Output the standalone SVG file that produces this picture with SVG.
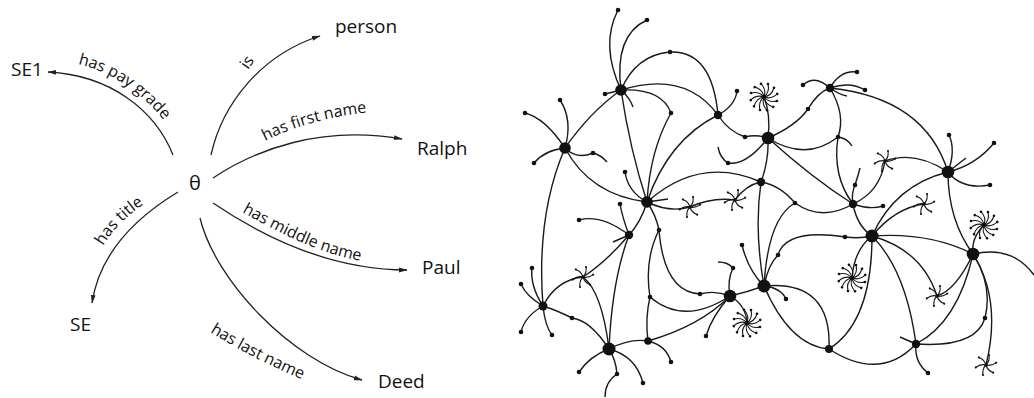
<svg xmlns="http://www.w3.org/2000/svg" xmlns:xlink="http://www.w3.org/1999/xlink" width="1034" height="398" viewBox="0 0 1034 398">
  <style>
    .edge { fill: none; stroke: #222; stroke-width: 1.3; }
    .lbl { font-family: "Open Sans", "Noto Sans", sans-serif; font-size: 16px; fill: #111; }
    .node { font-family: "Open Sans", "Noto Sans", sans-serif; font-size: 19px; fill: #111; }
    .net { fill: none; stroke: #1a1a1a; stroke-width: 1.4; }
    .sp { fill: none; stroke: #1a1a1a; stroke-width: 1.1; }
    .dot { fill: #111; }
  </style>
  <defs>
    <marker id="arrow" markerWidth="9" markerHeight="6" refX="8" refY="3" orient="auto" markerUnits="userSpaceOnUse">
      <path d="M0,0.6 L8.5,3 L0,5.4 z" fill="#222"/>
    </marker>
    <!-- baselines for the curved relation labels -->
    <path id="p-pay" d="M78,64 C112,72 145,94 168,126"/>
    <path id="p-first" d="M265,141 Q310,118 372,112"/>
    <path id="p-title" d="M103,246 Q120,218 152,199"/>
    <path id="p-middle" d="M242,212 C280,233 320,255 368,262"/>
    <path id="p-last" d="M210,332 Q255,360 306,381"/>
    <!-- pinwheel clusters -->
    <g id="spokeL"><path class="sp" d="M0,0 Q6,-5 4,-13"/><circle class="dot" cx="4" cy="-13" r="1.3"/></g>
    <g id="starL">
      <use href="#spokeL"/>
      <use href="#spokeL" transform="rotate(30)"/>
      <use href="#spokeL" transform="rotate(60)"/>
      <use href="#spokeL" transform="rotate(90)"/>
      <use href="#spokeL" transform="rotate(120)"/>
      <use href="#spokeL" transform="rotate(150)"/>
      <use href="#spokeL" transform="rotate(180)"/>
      <use href="#spokeL" transform="rotate(210)"/>
      <use href="#spokeL" transform="rotate(240)"/>
      <use href="#spokeL" transform="rotate(270)"/>
      <use href="#spokeL" transform="rotate(300)"/>
      <use href="#spokeL" transform="rotate(330)"/>
      <circle class="dot" r="2.2"/>
    </g>
    <g id="spokeS"><path class="sp" d="M0,0 Q4,-4 3,-10"/><circle class="dot" cx="3" cy="-10" r="1.1"/></g>
    <g id="starS">
      <use href="#spokeS"/>
      <use href="#spokeS" transform="rotate(60)"/>
      <use href="#spokeS" transform="rotate(120)"/>
      <use href="#spokeS" transform="rotate(180)"/>
      <use href="#spokeS" transform="rotate(240)"/>
      <use href="#spokeS" transform="rotate(300)"/>
      <circle class="dot" r="1.8"/>
    </g>
  </defs>

  <rect width="1034" height="398" fill="#fff"/>

  <!-- ===== RDF-style description of one resource ===== -->
  <g id="connectors">
    <path class="edge" d="M211,155 C222,105 260,55 320,36" marker-end="url(#arrow)"/>
    <path class="edge" d="M213,178 C255,150 320,125 402,139" marker-end="url(#arrow)"/>
    <path class="edge" d="M173,155 C155,110 110,75 48,72" marker-end="url(#arrow)"/>
    <path class="edge" d="M178,192 C140,215 100,250 92,303" marker-end="url(#arrow)"/>
    <path class="edge" d="M213,203 C250,228 320,270 407,270" marker-end="url(#arrow)"/>
    <path class="edge" d="M200,218 C215,280 290,360 362,380" marker-end="url(#arrow)"/>
  </g>

  <g id="edge-labels">
    <text class="lbl" transform="translate(248,70) rotate(-55)">is</text>
    <text class="lbl"><textPath href="#p-first">has first name</textPath></text>
    <text class="lbl"><textPath href="#p-pay">has pay grade</textPath></text>
    <text class="lbl"><textPath href="#p-title">has title</textPath></text>
    <text class="lbl"><textPath href="#p-middle">has middle name</textPath></text>
    <text class="lbl"><textPath href="#p-last">has last name</textPath></text>
  </g>

  <g id="node-subject"><text class="node" x="189" y="190" style="font-size:20px">θ</text></g>
  <g id="node-person"><text class="node" x="335" y="33">person</text></g>
  <g id="node-ralph"><text class="node" x="417" y="155">Ralph</text></g>
  <g id="node-paul"><text class="node" x="422" y="274">Paul</text></g>
  <g id="node-deed"><text class="node" x="378" y="388">Deed</text></g>
  <g id="node-se1"><text class="node" x="11" y="76">SE1</text></g>
  <g id="node-se"><text class="node" x="70" y="331">SE</text></g>

  <!-- ===== large web of interlinked resources ===== -->
  <g id="net-connectors" class="net">
    <path d="M621,90 Q590,112 565,148"/>
    <path d="M621,90 Q630,150 647,202"/>
    <path d="M621,90 Q600,45 618,10"/>
    <path d="M621,90 Q614,35 647,20"/>
    <path d="M621,90 Q636,55 670,52 Q712,50 718,115"/>
    <path d="M621,90 Q685,70 718,115"/>
    <path d="M621,90 Q662,88 671,113 Q650,150 647,202"/>
    <path d="M621,90 L605,94"/>
    <path d="M621,90 Q630,98 633,107"/>
    <path d="M565,148 Q545,118 525,113"/>
    <path d="M565,148 Q573,120 560,100"/>
    <path d="M565,148 Q545,150 534,163"/>
    <path d="M565,148 Q577,160 593,153 Q601,155 607,162"/>
    <path d="M565,148 Q590,195 647,202"/>
    <path d="M565,148 Q536,215 543,306"/>
    <path d="M647,202 Q668,140 718,115"/>
    <path d="M647,202 Q700,155 761,182"/>
    <path d="M647,202 Q628,192 625,172"/>
    <path d="M647,202 L668,199"/>
    <path d="M647,202 Q656,215 659,230 Q664,292 700,294"/>
    <path d="M647,202 Q641,222 629,235"/>
    <path d="M647,202 Q670,213 690,207 Q712,197 735,200 Q746,185 761,182"/>
    <path d="M768,138 Q756,134 745,137 Q728,131 718,115"/>
    <path d="M768,138 Q771,115 764,97"/>
    <path d="M768,138 Q796,126 808,109 Q818,92 830,88"/>
    <path d="M768,138 Q746,166 728,163 Q720,158 718,147"/>
    <path d="M768,138 Q769,160 761,182"/>
    <path d="M768,138 Q812,178 853,204"/>
    <path d="M768,138 Q806,162 838,137"/>
    <path d="M838,137 Q847,138 852,146"/>
    <path d="M838,137 Q832,176 853,204"/>
    <path d="M830,88 Q846,115 838,137"/>
    <path d="M718,115 Q735,106 737,91"/>
    <path d="M830,88 Q815,74 803,85"/>
    <path d="M830,88 Q840,70 857,72"/>
    <path d="M830,88 Q850,81 865,90"/>
    <path d="M830,88 Q840,95 847,96"/>
    <path d="M830,88 Q925,98 948,172"/>
    <path d="M948,172 Q956,150 949,135"/>
    <path d="M948,172 Q976,165 994,143"/>
    <path d="M948,172 Q962,190 990,185"/>
    <path d="M948,172 L966,158"/>
    <path d="M948,172 Q915,150 885,161"/>
    <path d="M948,172 Q895,185 872,236"/>
    <path d="M948,172 Q948,220 973,254"/>
    <path d="M872,236 Q895,208 924,204"/>
    <path d="M853,204 Q870,210 883,206"/>
    <path d="M853,204 Q851,194 855,185 Q858,176 860,168"/>
    <path d="M853,204 Q880,192 885,161"/>
    <path d="M853,204 Q857,226 872,236"/>
    <path d="M853,204 Q822,222 795,203 Q780,185 761,182"/>
    <path d="M795,203 Q768,218 764,286"/>
    <path d="M778,255 Q786,228 845,237 Q860,239 872,236"/>
    <path d="M778,255 Q768,265 764,286"/>
    <path d="M872,236 Q930,232 973,254"/>
    <path d="M872,236 Q854,250 852,278"/>
    <path d="M872,236 Q872,322 829,349"/>
    <path d="M872,236 Q906,270 916,344"/>
    <path d="M872,236 Q922,250 937,296"/>
    <path d="M973,254 Q971,238 984,225"/>
    <path d="M973,254 Q1012,245 1034,275"/>
    <path d="M973,254 Q993,285 985,318 Q976,348 916,344"/>
    <path d="M973,254 Q958,322 916,344"/>
    <path d="M973,254 Q1002,300 986,365"/>
    <path d="M973,254 Q956,290 937,296"/>
    <path d="M916,344 Q880,382 829,349"/>
    <path d="M916,344 Q914,362 928,373"/>
    <path d="M916,344 L900,337"/>
    <path d="M829,349 Q790,346 764,286"/>
    <path d="M764,286 Q832,280 829,349"/>
    <path d="M764,286 Q748,292 730,296"/>
    <path d="M764,286 Q754,230 761,182"/>
    <path d="M764,286 Q748,270 742,245"/>
    <path d="M764,286 Q781,288 786,299"/>
    <path d="M730,296 Q727,280 733,268 Q728,262 718,262"/>
    <path d="M730,296 Q715,290 700,294"/>
    <path d="M730,296 Q746,305 747,323"/>
    <path d="M730,296 Q712,316 706,336"/>
    <path d="M730,296 Q700,326 648,341"/>
    <path d="M730,296 Q684,326 650,297 Q644,260 659,230"/>
    <path d="M609,349 Q590,320 572,318 Q556,310 543,306"/>
    <path d="M609,349 Q612,280 629,235"/>
    <path d="M609,349 Q602,292 583,277"/>
    <path d="M609,349 Q630,338 648,341"/>
    <path d="M609,349 Q590,356 579,372"/>
    <path d="M609,349 Q616,360 617,374 Q605,382 605,397"/>
    <path d="M609,349 Q636,356 643,383"/>
    <path d="M543,306 Q526,296 521,284"/>
    <path d="M543,306 Q530,286 532,268"/>
    <path d="M543,306 Q525,316 521,332"/>
    <path d="M543,306 Q545,326 552,335"/>
    <path d="M543,306 Q556,280 583,277"/>
    <path d="M629,235 Q601,214 579,220"/>
    <path d="M629,235 Q622,216 620,204"/>
    <path d="M629,235 L613,242"/>
    <path d="M629,235 Q606,262 583,277"/>
    <path d="M648,341 Q666,345 671,362"/>
    <path d="M648,341 Q645,318 650,297"/>
  </g>

  <g id="net-clusters">
    <use href="#starL" x="764" y="97"/>
    <use href="#starL" x="984" y="225"/>
    <use href="#starL" x="852" y="278"/>
    <use href="#starL" x="747" y="323"/>
    <use href="#starS" x="690" y="207"/>
    <use href="#starS" x="735" y="200"/>
    <use href="#starS" x="885" y="161"/>
    <use href="#starS" x="924" y="204"/>
    <use href="#starS" x="937" y="296"/>
    <use href="#starS" x="986" y="365"/>
    <use href="#starS" x="583" y="277"/>
  </g>

  <g id="net-leaves" class="dot">
    <circle cx="618" cy="10" r="2.3"/><circle cx="647" cy="20" r="2.3"/>
    <circle cx="670" cy="52" r="2.3"/><circle cx="671" cy="113" r="2.3"/>
    <circle cx="605" cy="94" r="2.3"/><circle cx="525" cy="113" r="2.3"/>
    <circle cx="560" cy="100" r="2.3"/><circle cx="534" cy="163" r="2.3"/>
    <circle cx="593" cy="153" r="2.3"/><circle cx="625" cy="172" r="2.3"/>
    <circle cx="659" cy="230" r="2.3"/><circle cx="650" cy="297" r="2.3"/>
    <circle cx="700" cy="294" r="2.3"/><circle cx="745" cy="137" r="2.3"/>
    <circle cx="808" cy="109" r="2.3"/><circle cx="728" cy="163" r="2.3"/>
    <circle cx="838" cy="137" r="2.3"/><circle cx="737" cy="91" r="2.3"/>
    <circle cx="803" cy="85" r="2.3"/><circle cx="857" cy="72" r="2.3"/>
    <circle cx="865" cy="90" r="2.3"/><circle cx="949" cy="135" r="2.3"/>
    <circle cx="994" cy="143" r="2.3"/><circle cx="990" cy="185" r="2.3"/>
    <circle cx="883" cy="206" r="2.3"/><circle cx="855" cy="185" r="2.3"/>
    <circle cx="795" cy="203" r="2.3"/><circle cx="778" cy="255" r="2.3"/>
    <circle cx="845" cy="237" r="2.3"/><circle cx="742" cy="245" r="2.3"/>
    <circle cx="786" cy="299" r="2.3"/><circle cx="733" cy="268" r="2.3"/>
    <circle cx="706" cy="336" r="2.3"/><circle cx="985" cy="318" r="2.3"/>
    <circle cx="928" cy="373" r="2.3"/><circle cx="572" cy="318" r="2.3"/>
    <circle cx="579" cy="372" r="2.3"/><circle cx="617" cy="374" r="2.3"/>
    <circle cx="643" cy="383" r="2.3"/><circle cx="521" cy="284" r="2.3"/>
    <circle cx="532" cy="268" r="2.3"/><circle cx="521" cy="332" r="2.3"/>
    <circle cx="552" cy="335" r="2.3"/><circle cx="579" cy="220" r="2.3"/>
    <circle cx="620" cy="204" r="2.3"/><circle cx="671" cy="362" r="2.3"/>
  </g>

  <g id="net-hubs" class="dot">
    <g id="hub-a"><circle cx="621" cy="90" r="5.8"/></g>
    <g id="hub-b"><circle cx="565" cy="148" r="5.8"/></g>
    <g id="hub-c"><circle cx="647" cy="202" r="5.8"/></g>
    <g id="hub-d"><circle cx="768" cy="138" r="6.3"/></g>
    <g id="hub-e"><circle cx="718" cy="115" r="4.2"/></g>
    <g id="hub-f"><circle cx="830" cy="88" r="4.2"/></g>
    <g id="hub-g"><circle cx="948" cy="172" r="6.3"/></g>
    <g id="hub-h"><circle cx="872" cy="236" r="6.5"/></g>
    <g id="hub-i"><circle cx="973" cy="254" r="6.3"/></g>
    <g id="hub-j"><circle cx="764" cy="286" r="6.5"/></g>
    <g id="hub-k"><circle cx="730" cy="296" r="6.3"/></g>
    <g id="hub-l"><circle cx="609" cy="349" r="6.5"/></g>
    <g id="hub-m"><circle cx="543" cy="306" r="4.5"/></g>
    <g id="hub-n"><circle cx="629" cy="235" r="4.2"/></g>
    <g id="hub-o"><circle cx="648" cy="341" r="3.8"/></g>
    <g id="hub-p"><circle cx="761" cy="182" r="4.2"/></g>
    <g id="hub-q"><circle cx="853" cy="204" r="4.2"/></g>
    <g id="hub-r"><circle cx="916" cy="344" r="4.2"/></g>
    <g id="hub-s"><circle cx="829" cy="349" r="4"/></g>
  </g>
</svg>
